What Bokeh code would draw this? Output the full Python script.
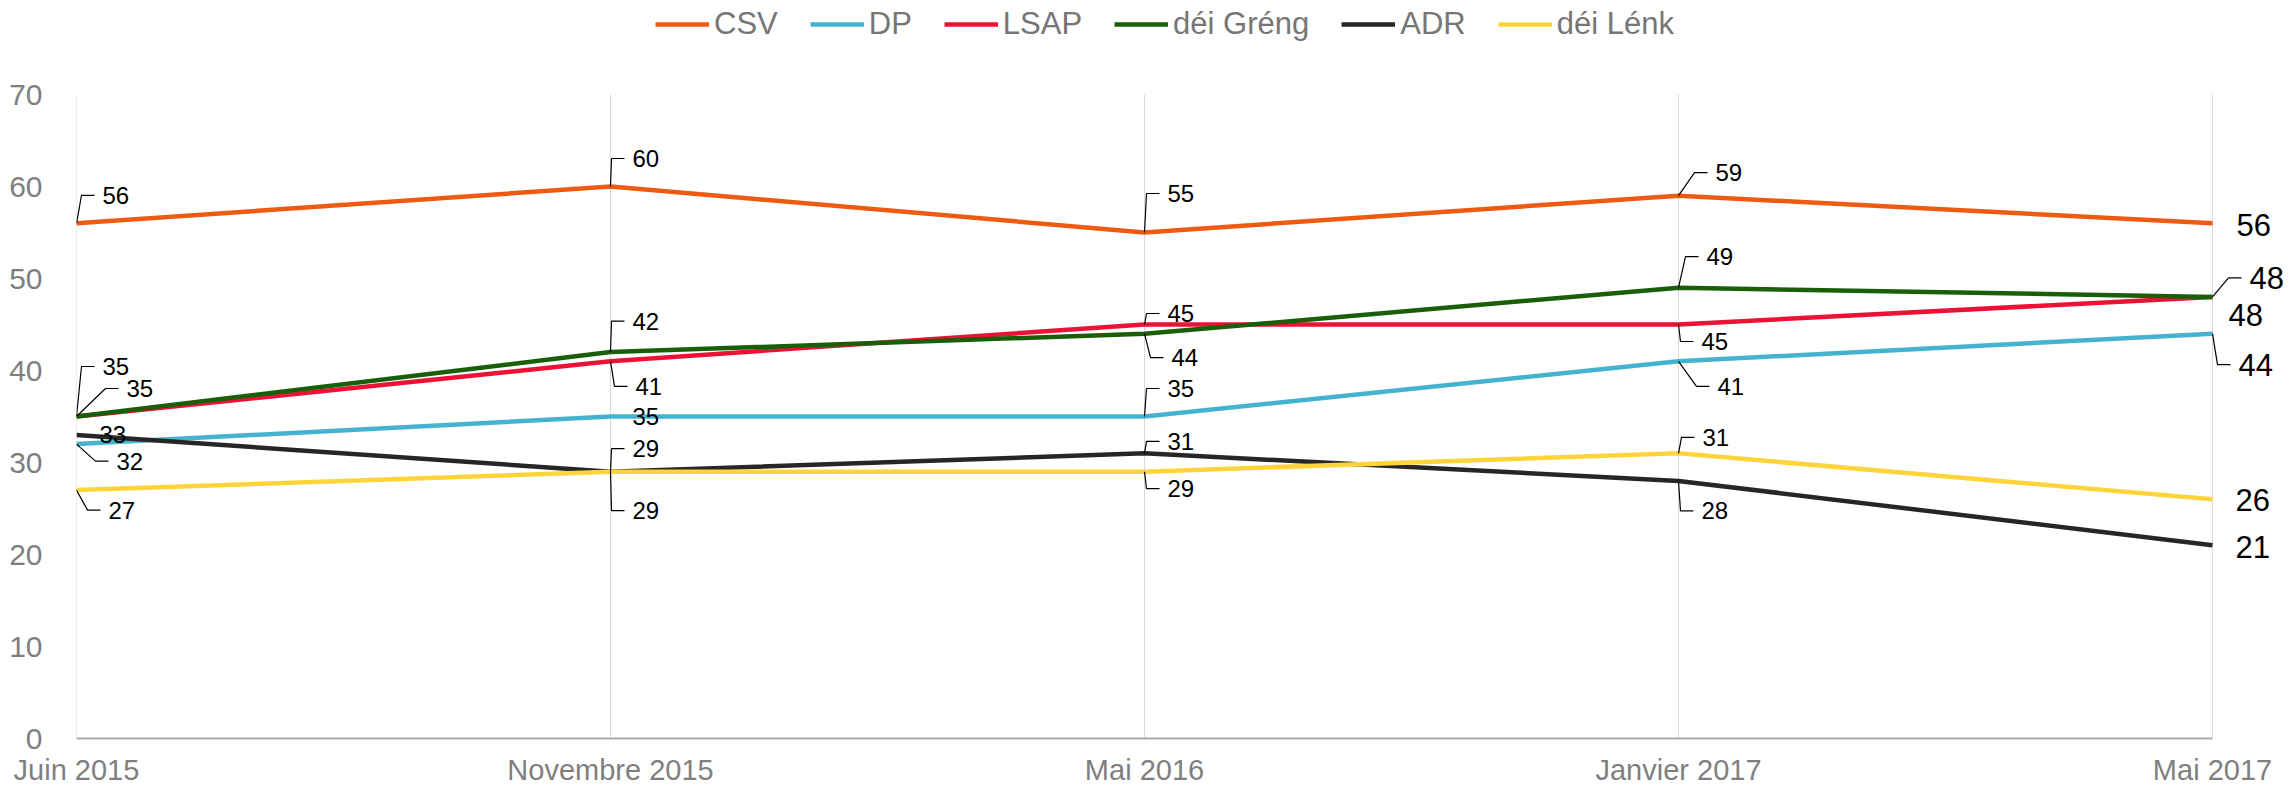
from bokeh.plotting import figure
from bokeh.models import (ColumnDataSource, Range1d, FixedTicker, Legend, LegendItem)
from bokeh.core.properties import value
from bokeh.embed import file_html
from bokeh.resources import INLINE

# ---------------- data ----------------
categories = ["Juin 2015", "Novembre 2015", "Mai 2016", "Janvier 2017", "Mai 2017"]
series_names = ["CSV", "DP", "LSAP", "déi Gréng", "ADR", "déi Lénk"]
csv_vals = [56, 60, 55, 59, 56]
dp_vals = [32, 35, 35, 41, 44]
lsap_vals = [35, 41, 45, 45, 48]
greng_vals = [35, 42, 44, 49, 48]
adr_vals = [33, 29, 31, 28, 21]
lenk_vals = [27, 29, 29, 31, 26]
y_ticks = [0, 10, 20, 30, 40, 50, 60, 70]

# ---------------- styles / layout ----------------
colors = ["#EE5A10", "#44B3CF", "#EE1136", "#1A5E0A", "#262626", "#FFD43B"]
FONT = "Liberation Sans"
LEFT = 76              # px left of first category
TOP = 94               # px above the value 70 (room for the legend)
PLOT_W = 2136          # px between first and last category
PLOT_H = 644           # px between 0 and 70
FRAME_W = 2212         # frame extends to the right to hold end labels
Y_MAX = 70
PX_X = PLOT_W / (len(categories) - 1)
PX_Y = PLOT_H / Y_MAX
FRAME_H = PLOT_H + TOP

# label placement (screen px offsets: dx right, dy down) and leader flag, per series per point
label_layout = {
    "CSV":       [(26, -28, 1), (22, -28, 1), (23, -39, 1), (37, -23, 1), (24, 2, 0)],
    "DP":        [(40, 17, 1), (22, 0, 0), (23, -28, 1), (39, 25, 1), (26, 31, 1)],
    "LSAP":      [(50, -28, 1), (25, 25, 1), (23, -11, 1), (23, 17, 1), (16, 18, 0)],
    "déi Gréng": [(26, -50, 1), (22, -31, 1), (27, 24, 1), (28, -31, 1), (37, -19, 1)],
    "ADR":       [(23, 0, 0), (22, -23, 1), (23, -12, 1), (23, 30, 1), (23, 2, 0)],
    "déi Lénk":  [(32, 20, 1), (22, 39, 1), (23, 17, 1), (24, -16, 1), (23, 1, 0)],
}

all_vals = [csv_vals, dp_vals, lsap_vals, greng_vals, adr_vals, lenk_vals]
xs = list(range(len(categories)))

p = figure(width=LEFT + FRAME_W, height=FRAME_H + 46,
           frame_width=FRAME_W, frame_height=FRAME_H,
           x_range=Range1d(0, (len(categories) - 1) * FRAME_W / PLOT_W),
           y_range=Range1d(0, Y_MAX * FRAME_H / PLOT_H),
           output_backend="svg", toolbar_location=None, tools="",
           min_border_left=LEFT, min_border_right=0, min_border_top=0, min_border_bottom=0)
p.outline_line_color = None
p.background_fill_color = "white"

# axes
p.xaxis.ticker = FixedTicker(ticks=xs)
p.xaxis.major_label_overrides = {i: c for i, c in enumerate(categories)}
p.xaxis.bounds = (0, len(categories) - 1)
p.xaxis.axis_line_color = "#ABABAB"
p.xaxis.axis_line_width = 2
p.xaxis.major_tick_line_color = None
p.xaxis.minor_tick_line_color = None
p.xaxis.major_label_standoff = 9
p.xaxis.major_label_text_font = FONT
p.xaxis.major_label_text_font_size = "29px"
p.xaxis.major_label_text_color = "#7F7F7F"

p.yaxis.ticker = FixedTicker(ticks=y_ticks)
p.yaxis.axis_line_color = None
p.yaxis.major_tick_line_color = None
p.yaxis.minor_tick_line_color = None
p.yaxis.major_label_standoff = 28
p.yaxis.major_label_text_font = FONT
p.yaxis.major_label_text_font_size = "30px"
p.yaxis.major_label_text_color = "#7F7F7F"

# vertical category grid lines, spanning 0..70 only
p.xgrid.grid_line_color = None
p.ygrid.grid_line_color = None
p.segment(x0=xs, y0=[0] * len(xs), x1=xs, y1=[Y_MAX] * len(xs),
          line_color="#D9D9D9", line_width=1)

# lines
renderers = []
for name, vals, col in zip(series_names, all_vals, colors):
    r = p.line(xs, vals, line_color=col, line_width=4.5, line_join="round")
    renderers.append(r)

# leader lines and labels
lx, ly = [], []
tx, ty, tt, tdx, tdy, tsize = [], [], [], [], [], []
last = len(categories) - 1
for name, vals in zip(series_names, all_vals):
    for i, v in enumerate(vals):
        dx, dy, lead = label_layout[name][i]
        tx.append(i); ty.append(v); tt.append(str(v))
        tdx.append(dx); tdy.append(dy)
        tsize.append("31px" if i == last else "24px")
        if lead:
            kx = dx - 21
            lx.append([i, i + kx / PX_X, i + (kx + 13) / PX_X])
            ly.append([v, v - dy / PX_Y, v - dy / PX_Y])

p.multi_line(lx, ly, line_color="black", line_width=1.2)
src = ColumnDataSource(dict(x=tx, y=ty, t=tt, dx=tdx, dy=tdy, fs=tsize))
p.text(x="x", y="y", text="t", x_offset="dx", y_offset="dy", source=src,
       text_font=value(FONT), text_font_size="fs", text_color="black",
       text_baseline="middle", text_align="left")

legend = Legend(items=[LegendItem(label=n, renderers=[r]) for n, r in zip(series_names, renderers)],
                orientation="horizontal", location=(579, FRAME_H - 42),
                glyph_width=54, glyph_height=20, label_standoff=5, spacing=32,
                padding=0, margin=0, border_line_color=None, background_fill_alpha=0,
                label_text_font=FONT, label_text_font_size="31px", label_text_color="#767676")
p.add_layout(legend)

open("out.html", "w").write(file_html(p, INLINE))
